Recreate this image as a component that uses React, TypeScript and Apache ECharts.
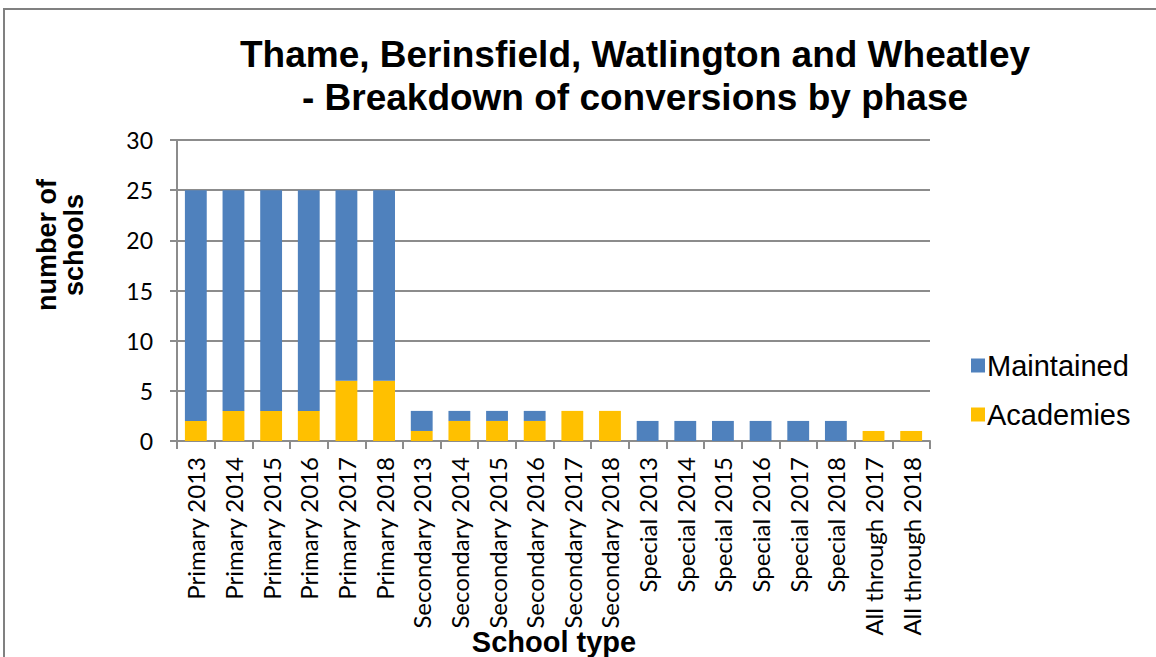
import React, { useEffect, useRef } from "react";
import * as echarts from "echarts";

const categories = [
  "Primary 2013", "Primary 2014", "Primary 2015", "Primary 2016", "Primary 2017", "Primary 2018",
  "Secondary 2013", "Secondary 2014", "Secondary 2015", "Secondary 2016", "Secondary 2017", "Secondary 2018",
  "Special 2013", "Special 2014", "Special 2015", "Special 2016", "Special 2017", "Special 2018",
  "All through 2017", "All through 2018",
];

const academies = [2, 3, 3, 3, 6, 6, 1, 2, 2, 2, 3, 3, 0, 0, 0, 0, 0, 0, 1, 1];
const maintained = [23, 22, 22, 22, 19, 19, 2, 1, 1, 1, 0, 0, 2, 2, 2, 2, 2, 2, 0, 0];
const yTicks = [0, 5, 10, 15, 20, 25, 30];

export default function App() {
  const ref = useRef<HTMLDivElement>(null);
  useEffect(() => {
    document.body.style.margin = "0";
    const chart = echarts.init(ref.current!, null, { renderer: "svg" });
    chart.setOption({
      animation: false,
      backgroundColor: "#fff",
      title: {
        text: "Thame, Berinsfield, Watlington and Wheatley\n- Breakdown of conversions by phase",
        left: 630,
        textAlign: "center",
        top: 28,
        textStyle: {
          fontFamily: "Liberation Sans, Arial",
          fontWeight: "bold",
          fontSize: 37,
          lineHeight: 43,
          color: "#000",
        },
      },
      legend: {
        orient: "vertical",
        left: 966,
        top: 346,
        itemWidth: 14,
        itemHeight: 14,
        itemGap: 20,
        icon: "rect",
        data: ["Maintained", "Academies"],
        textStyle: { fontFamily: "Liberation Sans, Arial", fontSize: 29, color: "#000", padding: [0, 0, 0, -3] },
      },
      grid: { left: 177, top: 140, right: 226, bottom: 216, containLabel: false },
      xAxis: {
        type: "category",
        data: categories,
        axisLine: { lineStyle: { color: "#8c8c8c", width: 2 } },
        axisTick: { show: true, length: 8, lineStyle: { color: "#8c8c8c", width: 2 } },
        axisLabel: {
          rotate: 90,
          interval: 0,
          margin: 16,
          fontFamily: "Lato, Open Sans, sans-serif",
          fontSize: 24,
          color: "#000",
        },
      },
      yAxis: {
        type: "value",
        min: 0,
        max: 30,
        interval: 5,
        axisLine: { show: true, lineStyle: { color: "#8c8c8c", width: 2 } },
        axisTick: { show: true, length: 7, lineStyle: { color: "#8c8c8c", width: 2 } },
        splitLine: { lineStyle: { color: "#8c8c8c", width: 2 } },
        axisLabel: {
          margin: 24,
          fontFamily: "Lato, Open Sans, sans-serif",
          fontSize: 23,
          color: "#000",
          formatter: (v: number) => (yTicks.includes(v) ? String(v) : ""),
        },
      },
      series: [
        {
          name: "Academies",
          type: "bar",
          stack: "total",
          data: academies,
          barWidth: "58%",
          itemStyle: { color: "#FFC000" },
        },
        {
          name: "Maintained",
          type: "bar",
          stack: "total",
          data: maintained,
          barWidth: "58%",
          itemStyle: { color: "#4F81BD" },
        },
      ],
      graphic: [
        {
          type: "rect",
          shape: { x: 4, y: 9, width: 1170, height: 670 },
          style: { fill: "none", stroke: "#808080", lineWidth: 2 },
          silent: true,
        },
        {
          type: "text",
          x: 60,
          y: 245,
          rotation: Math.PI / 2,
          style: {
            text: "number of\nschools",
            fontFamily: "Liberation Sans, Arial",
            fontWeight: "bold",
            fontSize: 27,
            lineHeight: 27,
            fill: "#000",
            align: "center",
            verticalAlign: "middle",
          },
        },
        {
          type: "text",
          x: 554,
          y: 642,
          style: {
            text: "School type",
            fontFamily: "Liberation Sans, Arial",
            fontWeight: "bold",
            fontSize: 29,
            fill: "#000",
            align: "center",
            verticalAlign: "middle",
          },
        },
      ],
    });
    return () => chart.dispose();
  }, []);
  return <div ref={ref} style={{ width: 1156, height: 657 }} />;
}
